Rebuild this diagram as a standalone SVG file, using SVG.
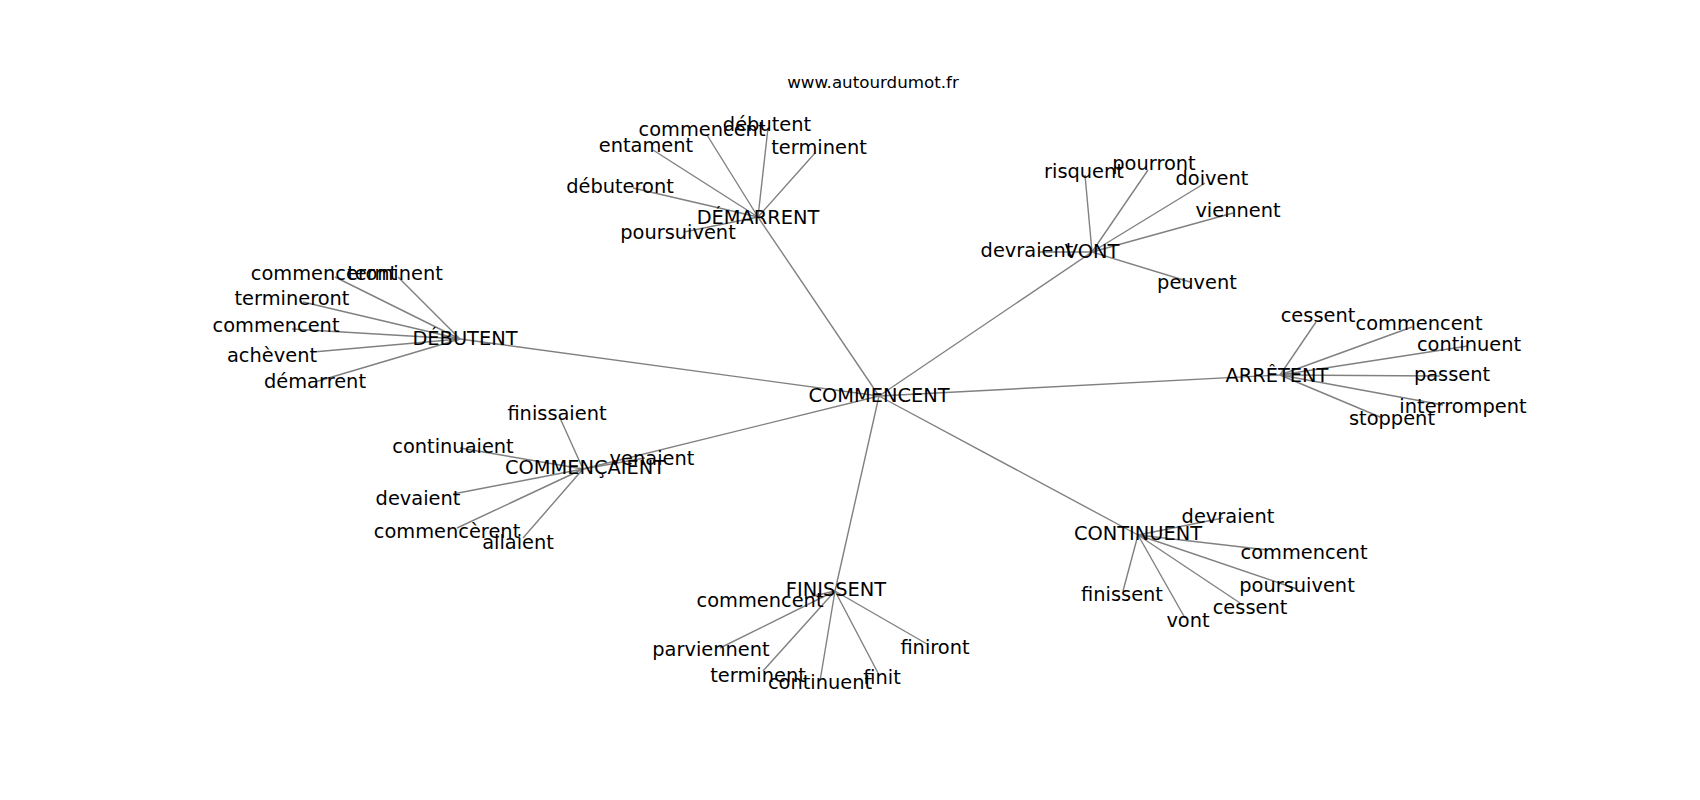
<svg xmlns="http://www.w3.org/2000/svg" width="1700" height="800" viewBox="0 0 1700 800">
<style>
text{font-family:"DejaVu Sans","Liberation Sans",sans-serif;fill:#000;text-anchor:middle}
.n{font-size:19.4px}
.t{font-size:16.7px}
#edges line{stroke:#808080;stroke-width:1.4}
</style>
<rect width="1700" height="800" fill="#fff"/>
<text class="t" x="873" y="88">www.autourdumot.fr</text>
<g id="edges">
<line x1="879" y1="396" x2="758" y2="217"/>
<line x1="879" y1="396" x2="1092" y2="252"/>
<line x1="879" y1="396" x2="460" y2="339"/>
<line x1="879" y1="396" x2="1280" y2="375"/>
<line x1="879" y1="396" x2="583" y2="469"/>
<line x1="879" y1="396" x2="835" y2="591"/>
<line x1="879" y1="396" x2="1138" y2="535"/>
<line x1="758" y1="217" x2="707" y2="135"/>
<line x1="758" y1="217" x2="768" y2="128"/>
<line x1="758" y1="217" x2="653" y2="150"/>
<line x1="758" y1="217" x2="815" y2="153"/>
<line x1="758" y1="217" x2="633" y2="188"/>
<line x1="758" y1="217" x2="684" y2="232"/>
<line x1="1092" y1="252" x2="1085" y2="175"/>
<line x1="1092" y1="252" x2="1148" y2="170"/>
<line x1="1092" y1="252" x2="1205" y2="183"/>
<line x1="1092" y1="252" x2="1233" y2="213"/>
<line x1="1092" y1="252" x2="1040" y2="252"/>
<line x1="1092" y1="252" x2="1190" y2="282"/>
<line x1="460" y1="339" x2="335" y2="277"/>
<line x1="460" y1="339" x2="398" y2="277"/>
<line x1="460" y1="339" x2="303" y2="302"/>
<line x1="460" y1="339" x2="292" y2="329"/>
<line x1="460" y1="339" x2="313" y2="352"/>
<line x1="460" y1="339" x2="315" y2="382"/>
<line x1="1280" y1="375" x2="1316" y2="322"/>
<line x1="1280" y1="375" x2="1412" y2="327"/>
<line x1="1280" y1="375" x2="1468" y2="346"/>
<line x1="1280" y1="375" x2="1440" y2="376"/>
<line x1="1280" y1="375" x2="1443" y2="405"/>
<line x1="1280" y1="375" x2="1380" y2="417"/>
<line x1="583" y1="469" x2="560" y2="418"/>
<line x1="583" y1="469" x2="460" y2="448"/>
<line x1="583" y1="469" x2="645" y2="458"/>
<line x1="583" y1="469" x2="453" y2="494"/>
<line x1="583" y1="469" x2="457" y2="528"/>
<line x1="583" y1="469" x2="523" y2="538"/>
<line x1="835" y1="591" x2="805" y2="598"/>
<line x1="835" y1="591" x2="720" y2="648"/>
<line x1="835" y1="591" x2="763" y2="671"/>
<line x1="835" y1="591" x2="820" y2="681"/>
<line x1="835" y1="591" x2="878" y2="673"/>
<line x1="835" y1="591" x2="927" y2="644"/>
<line x1="1138" y1="535" x2="1223" y2="518"/>
<line x1="1138" y1="535" x2="1268" y2="550"/>
<line x1="1138" y1="535" x2="1297" y2="589"/>
<line x1="1138" y1="535" x2="1240" y2="603"/>
<line x1="1138" y1="535" x2="1185" y2="618"/>
<line x1="1138" y1="535" x2="1123" y2="591"/>
</g>
<g id="n-commencent"><text class="n" x="879" y="401.5">COMMENCENT</text></g>
<g id="n-demarrent"><text class="n" x="758" y="224">DÉMARRENT</text></g>
<g id="n-vont"><text class="n" x="1092" y="258">VONT</text></g>
<g id="n-debutent"><text class="n" x="465" y="345">DÉBUTENT</text></g>
<g id="n-arretent"><text class="n" x="1277" y="382">ARRÊTENT</text></g>
<g id="n-commencaient"><text class="n" x="585" y="474">COMMENÇAIENT</text></g>
<g id="n-finissent"><text class="n" x="836" y="596">FINISSENT</text></g>
<g id="n-continuent"><text class="n" x="1138" y="540">CONTINUENT</text></g>
<g id="n-dem-commencent"><text class="n" x="702" y="136">commencent</text></g>
<g id="n-dem-debutent"><text class="n" x="767" y="131">débutent</text></g>
<g id="n-dem-entament"><text class="n" x="646" y="152">entament</text></g>
<g id="n-dem-terminent"><text class="n" x="819" y="154">terminent</text></g>
<g id="n-dem-debuteront"><text class="n" x="620" y="193">débuteront</text></g>
<g id="n-dem-poursuivent"><text class="n" x="678" y="239">poursuivent</text></g>
<g id="n-vont-risquent"><text class="n" x="1084" y="178">risquent</text></g>
<g id="n-vont-pourront"><text class="n" x="1154" y="170">pourront</text></g>
<g id="n-vont-doivent"><text class="n" x="1212" y="185">doivent</text></g>
<g id="n-vont-viennent"><text class="n" x="1238" y="217">viennent</text></g>
<g id="n-vont-devraient"><text class="n" x="1027" y="257">devraient</text></g>
<g id="n-vont-peuvent"><text class="n" x="1197" y="289">peuvent</text></g>
<g id="n-deb-commenceront"><text class="n" x="324" y="280">commenceront</text></g>
<g id="n-deb-terminent"><text class="n" x="395" y="280">terminent</text></g>
<g id="n-deb-termineront"><text class="n" x="292" y="305">termineront</text></g>
<g id="n-deb-commencent"><text class="n" x="276" y="332">commencent</text></g>
<g id="n-deb-achevent"><text class="n" x="272" y="362">achèvent</text></g>
<g id="n-deb-demarrent"><text class="n" x="315" y="388">démarrent</text></g>
<g id="n-arr-cessent"><text class="n" x="1318" y="322">cessent</text></g>
<g id="n-arr-commencent"><text class="n" x="1419" y="330">commencent</text></g>
<g id="n-arr-continuent"><text class="n" x="1469" y="351">continuent</text></g>
<g id="n-arr-passent"><text class="n" x="1452" y="381">passent</text></g>
<g id="n-arr-interrompent"><text class="n" x="1463" y="413">interrompent</text></g>
<g id="n-arr-stoppent"><text class="n" x="1392" y="425">stoppent</text></g>
<g id="n-comc-finissaient"><text class="n" x="557" y="420">finissaient</text></g>
<g id="n-comc-continuaient"><text class="n" x="453" y="453">continuaient</text></g>
<g id="n-comc-venaient"><text class="n" x="652" y="465">venaient</text></g>
<g id="n-comc-devaient"><text class="n" x="418" y="505">devaient</text></g>
<g id="n-comc-commencerent"><text class="n" x="447" y="538">commencèrent</text></g>
<g id="n-comc-allaient"><text class="n" x="518" y="549">allaient</text></g>
<g id="n-fin-commencent"><text class="n" x="760" y="607">commencent</text></g>
<g id="n-fin-parviennent"><text class="n" x="711" y="656">parviennent</text></g>
<g id="n-fin-terminent"><text class="n" x="758" y="682">terminent</text></g>
<g id="n-fin-continuent"><text class="n" x="820" y="689">continuent</text></g>
<g id="n-fin-finit"><text class="n" x="882" y="684">finit</text></g>
<g id="n-fin-finiront"><text class="n" x="935" y="654">finiront</text></g>
<g id="n-cont-devraient"><text class="n" x="1228" y="523">devraient</text></g>
<g id="n-cont-commencent"><text class="n" x="1304" y="559">commencent</text></g>
<g id="n-cont-poursuivent"><text class="n" x="1297" y="592">poursuivent</text></g>
<g id="n-cont-cessent"><text class="n" x="1250" y="614">cessent</text></g>
<g id="n-cont-vont"><text class="n" x="1188" y="627">vont</text></g>
<g id="n-cont-finissent"><text class="n" x="1122" y="601">finissent</text></g>
</svg>
